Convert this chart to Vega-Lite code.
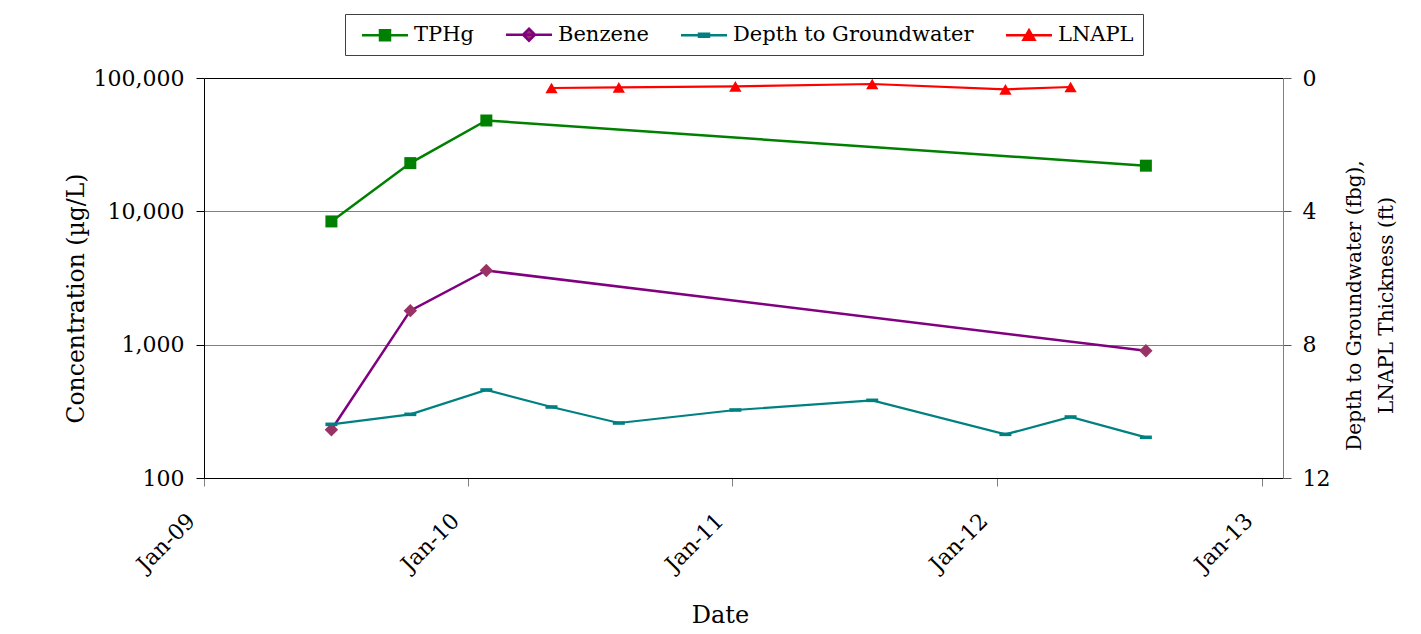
{
  "$schema": "https://vega.github.io/schema/vega-lite/v6.json",
  "width": 1079,
  "height": 400,
  "autosize": {"type": "none"},
  "padding": {"left": 204, "top": 78, "right": 138, "bottom": 156},
  "background": "white",
  "config": {
    "font": "DejaVu Serif",
    "view": {"stroke": null},
    "axis": {
      "labelFont": "DejaVu Serif",
      "titleFont": "DejaVu Serif",
      "labelFontSize": 22,
      "titleFontSize": 23,
      "titleFontWeight": "normal",
      "labelColor": "#000",
      "titleColor": "#000",
      "tickSize": 8
    }
  },
  "data": {
    "values": [
      {"date": "2009-06-26T00:00", "series": "TPHg", "value": 8400},
      {"date": "2009-10-13T00:00", "series": "TPHg", "value": 23000},
      {"date": "2010-01-26T00:00", "series": "TPHg", "value": 48000},
      {"date": "2012-07-25T00:00", "series": "TPHg", "value": 22000},
      {"date": "2009-06-26T00:00", "series": "Benzene", "value": 230},
      {"date": "2009-10-13T00:00", "series": "Benzene", "value": 1800},
      {"date": "2010-01-26T00:00", "series": "Benzene", "value": 3600},
      {"date": "2012-07-25T00:00", "series": "Benzene", "value": 900},
      {"date": "2009-06-26T00:00", "series": "Depth to Groundwater", "value": 10.39},
      {"date": "2009-10-13T00:00", "series": "Depth to Groundwater", "value": 10.09},
      {"date": "2010-01-26T00:00", "series": "Depth to Groundwater", "value": 9.36},
      {"date": "2010-04-26T00:00", "series": "Depth to Groundwater", "value": 9.87},
      {"date": "2010-07-28T00:00", "series": "Depth to Groundwater", "value": 10.35},
      {"date": "2011-01-05T00:00", "series": "Depth to Groundwater", "value": 9.96},
      {"date": "2011-07-13T00:00", "series": "Depth to Groundwater", "value": 9.67},
      {"date": "2012-01-13T00:00", "series": "Depth to Groundwater", "value": 10.69},
      {"date": "2012-04-12T00:00", "series": "Depth to Groundwater", "value": 10.17},
      {"date": "2012-07-25T00:00", "series": "Depth to Groundwater", "value": 10.78},
      {"date": "2010-04-26T00:00", "series": "LNAPL", "value": 0.30},
      {"date": "2010-07-28T00:00", "series": "LNAPL", "value": 0.28},
      {"date": "2011-01-05T00:00", "series": "LNAPL", "value": 0.25},
      {"date": "2011-07-13T00:00", "series": "LNAPL", "value": 0.18},
      {"date": "2012-01-13T00:00", "series": "LNAPL", "value": 0.34},
      {"date": "2012-04-12T00:00", "series": "LNAPL", "value": 0.27}
    ]
  },
  "encoding": {
    "x": {
      "field": "date",
      "type": "temporal",
      "scale": {
        "domain": [
          {"year": 2009, "month": 1, "date": 1},
          {"year": 2013, "month": 1, "date": 30, "hours": 10}
        ],
        "nice": false
      },
      "axis": {
        "values": [
          {"year": 2009, "month": 1, "date": 1},
          {"year": 2010, "month": 1, "date": 1},
          {"year": 2011, "month": 1, "date": 1},
          {"year": 2012, "month": 1, "date": 1},
          {"year": 2013, "month": 1, "date": 1}
        ],
        "format": "%b-%y",
        "labelAngle": -45,
        "labelAlign": "right",
        "labelBaseline": "middle",
        "labelPadding": 31,
        "labelOffset": -13,
        "labelFlush": false,
        "labelOverlap": false,
        "grid": false,
        "domainColor": "#000",
        "tickColor": "#808080",
        "title": "Date",
        "titleFontSize": 24,
        "titleX": 516,
        "titleY": 144,
        "titleAlign": "center",
        "titleBaseline": "alphabetic"
      }
    }
  },
  "layer": [
    {
      "encoding": {
        "y": {
          "field": "value",
          "type": "quantitative",
          "scale": {"type": "log", "domain": [100, 100000], "nice": false},
          "axis": {
            "orient": "left",
            "values": [100, 1000, 10000, 100000],
            "format": ",d",
            "grid": true,
            "gridColor": {"condition": {"test": "datum.value >= 99999", "value": "#000"}, "value": "#808080"},
            "domainColor": "#000",
            "tickColor": "#000",
            "labelPadding": 12,
            "title": "Concentration (µg/L)",
            "titleFontSize": 23.5,
            "titleAngle": 270,
            "titleX": -121,
            "titleY": 220,
            "titleAlign": "center",
            "titleBaseline": "alphabetic"
          }
        }
      },
      "layer": [
        {
          "transform": [{"filter": "datum.series === 'TPHg'"}],
          "mark": {"type": "line", "strokeWidth": 2.5, "color": "#008000"}
        },
        {
          "transform": [{"filter": "datum.series === 'Benzene'"}],
          "mark": {"type": "line", "strokeWidth": 2.5, "color": "#800080"}
        },
        {
          "transform": [{"filter": "datum.series === 'TPHg'"}],
          "mark": {"type": "point", "shape": "square", "filled": true, "size": 144, "color": "#008000", "opacity": 1}
        },
        {
          "transform": [{"filter": "datum.series === 'Benzene'"}],
          "mark": {"type": "point", "shape": "diamond", "filled": true, "size": 180, "color": "#993366", "opacity": 1}
        },
        {
          "transform": [{"filter": "datum.series === 'TPHg'"}],
          "mark": {"type": "point", "filled": true, "size": 0, "strokeWidth": 2.5},
          "encoding": {
            "fill": {
              "field": "series", "type": "nominal",
              "scale": {"domain": ["TPHg", "Benzene", "Depth to Groundwater", "LNAPL"], "range": ["#008000", "#993366", "#008080", "#FF0000"]},
              "legend": {"title": null, "orient": "none", "legendX": 141, "legendY": -64, "direction": "horizontal", "columns": 4, "symbolSize": 400, "symbolStrokeWidth": 2.5, "symbolOpacity": 1, "labelFontSize": 21, "labelFont": "DejaVu Serif", "labelColor": "#000", "labelOffset": 37, "columnPadding": 24, "padding": 9, "strokeColor": "#404040", "fillColor": "#ffffff", "labelLimit": 400, "values": ["TPHg", "Benzene", "Depth to Groundwater", "LNAPL"]}
            },
            "stroke": {
              "field": "series", "type": "nominal",
              "scale": {"domain": ["TPHg", "Benzene", "Depth to Groundwater", "LNAPL"], "range": ["#008000", "#800080", "#008080", "#FF0000"]},
              "legend": {"title": null, "orient": "none", "legendX": 141, "legendY": -64, "direction": "horizontal", "columns": 4, "symbolSize": 400, "symbolStrokeWidth": 2.5, "symbolOpacity": 1, "labelFontSize": 21, "labelFont": "DejaVu Serif", "labelColor": "#000", "labelOffset": 37, "columnPadding": 24, "padding": 9, "strokeColor": "#404040", "fillColor": "#ffffff", "labelLimit": 400, "values": ["TPHg", "Benzene", "Depth to Groundwater", "LNAPL"]}
            },
            "shape": {
              "field": "series", "type": "nominal",
              "scale": {"domain": ["TPHg", "Benzene", "Depth to Groundwater", "LNAPL"], "range": [
                "M-0.35,0H4.25M1.45,-0.5H2.45V0.5H1.45Z",
                "M-0.35,0H4.25M1.95,-0.6L2.55,0L1.95,0.6L1.35,0Z",
                "M-0.35,0H4.25M1.45,-0.15H2.45V0.15H1.45Z",
                "M-0.35,0H4.25M1.95,-0.5L2.5,0.45L1.4,0.45Z"
              ]},
              "legend": {"title": null, "orient": "none", "legendX": 141, "legendY": -64, "direction": "horizontal", "columns": 4, "symbolSize": 400, "symbolStrokeWidth": 2.5, "symbolOpacity": 1, "labelFontSize": 21, "labelFont": "DejaVu Serif", "labelColor": "#000", "labelOffset": 37, "columnPadding": 24, "padding": 9, "strokeColor": "#404040", "fillColor": "#ffffff", "labelLimit": 400, "values": ["TPHg", "Benzene", "Depth to Groundwater", "LNAPL"]}
            }
          }
        }
      ]
    },
    {
      "encoding": {
        "y": {
          "field": "value",
          "type": "quantitative",
          "scale": {"domain": [0, 12], "reverse": true, "nice": false, "zero": false},
          "axis": {
            "orient": "right",
            "values": [0, 4, 8, 12],
            "grid": false,
            "domainColor": "#808080",
            "tickColor": "#555555",
            "labelPadding": 11,
            "title": ["Depth to Groundwater (fbg),", "LNAPL Thickness (ft)"],
            "titleFontSize": 20,
            "titleAngle": 270,
            "titleX": 77,
            "titleY": 227,
            "titleAlign": "center",
            "titleBaseline": "alphabetic",
            "titleLineHeight": 32
          }
        }
      },
      "layer": [
        {
          "transform": [{"filter": "datum.series === 'Depth to Groundwater'"}],
          "mark": {"type": "line", "strokeWidth": 2.2, "color": "#008080"}
        },
        {
          "transform": [{"filter": "datum.series === 'LNAPL'"}],
          "mark": {"type": "line", "strokeWidth": 2.2, "color": "#FF0000"}
        },
        {
          "transform": [{"filter": "datum.series === 'Depth to Groundwater'"}],
          "mark": {"type": "point", "shape": "M-1,-0.3H1V0.3H-1Z", "filled": true, "size": 144, "color": "#008080", "opacity": 1}
        },
        {
          "transform": [{"filter": "datum.series === 'LNAPL'"}],
          "mark": {"type": "point", "shape": "triangle-up", "filled": true, "size": 150, "color": "#FF0000", "opacity": 1}
        }
      ]
    }
  ],
  "resolve": {"scale": {"y": "independent"}}
}
